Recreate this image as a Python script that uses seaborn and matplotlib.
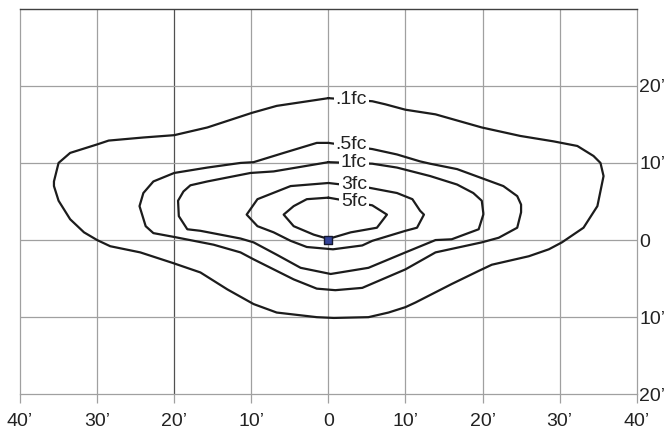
import numpy as np
import pandas as pd
import seaborn as sns
import matplotlib
matplotlib.use("Agg")
import matplotlib.pyplot as plt

# isofootcandle lines, coordinates in feet
x_01 = [0, -6.7, -9.9, -15.7, -20.0, -24.0, -28.5, -30.0, -33.5, -35.0, -35.6, -35.6,
        -35.0, -33.5, -31.7, -30.0, -28.3, -24.4, -20.1, -16.6, -13.1, -9.7, -6.7, -1.5,
        0.7, 5.2, 7.8, 10.0, 11.3, 16.0, 19.5, 21.2, 26.0, 28.6, 30.3, 33.1, 34.9, 35.7,
        35.3, 34.4, 32.3, 29.2, 24.9, 19.9, 13.9, 10.0, 7.4, 5.7]
y_01 = [18.4, 17.4, 16.5, 14.6, 13.6, 13.3, 12.9, 12.4, 11.3, 10.0, 7.6, 7.0,
        5.1, 2.7, 1.0, 0.0, -0.8, -1.6, -3.0, -4.2, -6.4, -8.3, -9.4, -10.0,
        -10.1, -10.0, -9.4, -8.7, -8.1, -5.7, -4.0, -3.2, -2.1, -1.2, -0.3, 1.6, 4.4, 8.3,
        10.0, 10.9, 12.2, 12.8, 13.5, 14.6, 16.3, 16.9, 17.6, 18.0]

x_05 = [0, -1.5, -5.8, -9.7, -11.4, -15.7, -20.0, -22.7, -24.0, -24.5, -23.7, -22.7,
        -20.0, -14.9, -11.4, -9.7, -6.7, -4.5, -1.5, 0.9, 4.4, 10.0, 13.9, 19.9, 22.1,
        24.5, 25.0, 25.0, 24.5, 22.7, 19.7, 16.7, 13.2, 11.9, 8.9, 5.7]
y_05 = [12.6, 12.6, 11.3, 10.1, 10.0, 9.4, 8.7, 7.6, 6.1, 4.4, 1.8, 0.9,
        0.4, -0.6, -1.6, -2.5, -4.0, -5.1, -6.3, -6.5, -6.2, -3.8, -1.6, -0.3, 0.3,
        1.6, 3.6, 4.6, 5.7, 7.0, 8.1, 9.2, 9.9, 10.2, 11.1, 11.8]

x_1 = [0, -7.1, -10.1, -15.7, -17.9, -18.8, -19.5, -19.4, -18.3, -16.6, -11.4, -9.7,
       -6.7, -3.6, 0.3, 5.2, 10.0, 13.9, 16.0, 19.5, 20.1, 20.1, 19.9, 18.8,
       16.7, 13.2, 8.9, 5.7]
y_1 = [10.1, 8.9, 8.7, 7.6, 7.1, 6.3, 5.1, 3.1, 1.4, 1.2, 0.2, -0.3,
       -1.9, -3.6, -4.4, -3.6, -1.6, 0.0, 0.1, 1.4, 3.3, 3.5, 5.1, 6.1,
       7.2, 8.3, 9.4, 9.9]

x_3 = [0, -4.9, -9.2, -10.6, -9.2, -7.1, -4.9, -2.8, 0.6, 4.4, 5.7, 10.0, 11.5,
       12.4, 11.9, 10.9, 8.9, 5.2]
y_3 = [7.4, 7.0, 5.3, 3.3, 1.8, 1.0, -0.1, -0.9, -1.2, -0.7, -0.1, 1.2, 1.6,
       3.3, 3.8, 5.3, 6.1, 6.8]

x_5 = [0, -2.8, -4.5, -5.8, -4.5, -1.9, 0, 2.9, 6.3, 7.6, 5.7]
y_5 = [5.5, 5.3, 4.4, 3.3, 1.8, 0.7, 0.15, 1.0, 1.6, 3.3, 4.5]

levels = [".1fc", ".5fc", "1fc", "3fc", "5fc"]
label_x = [5.0, 5.0, 5.0, 5.0, 5.0]
label_y = [18.2, 12.4, 10.0, 7.2, 5.05]

x_ticks = [-40, -30, -20, -10, 0, 10, 20, 30, 40]
x_ticklabels = ["40\u2019", "30\u2019", "20\u2019", "10\u2019", "0",
                "10\u2019", "20\u2019", "30\u2019", "40\u2019"]
y_ticks = [-20, -10, 0, 10, 20]
y_ticklabels = ["20\u2019", "10\u2019", "0", "10\u2019", "20\u2019"]

sns.set_style("white")
plt.rcParams["font.family"] = ["Liberation Sans", "DejaVu Sans"]

fig = plt.figure(figsize=(6.7, 4.33), dpi=100)
ax = fig.add_axes([0.0299, 0.0894, 0.9204, 0.8905])

grid_c = "#a0a0a0"
for gx in x_ticks[1:-1]:
    ax.axvline(gx, color="#505050" if gx == -20 else grid_c, lw=0.9, zorder=1)
for gy in y_ticks[1:]:
    ax.axhline(gy, color=grid_c, lw=0.9, zorder=1)

curves = [(x_01, y_01), (x_05, y_05), (x_1, y_1), (x_3, y_3), (x_5, y_5)]
for (cx, cy), lev in zip(curves, levels):
    df = pd.DataFrame({"x": cx + cx[:1], "y": cy + cy[:1]})
    sns.lineplot(data=df, x="x", y="y", sort=False, estimator=None,
                 color="#1c1c1c", lw=1.6, ax=ax, zorder=3)

for lx, ly, lev in zip(label_x, label_y, levels):
    ax.text(lx, ly, lev, ha="right", va="center", fontsize=14, color="#222222",
            zorder=5, bbox=dict(boxstyle="square,pad=0.1", fc="white", ec="none"))

sns.scatterplot(x=[0], y=[0], marker="s", s=30, color="#34449a",
                edgecolor="#15182e", linewidth=1, ax=ax, zorder=6)

ax.set_xlim(-40, 40)
ax.set_ylim(-20, 30)
ax.set_xticks(x_ticks)
ax.set_xticklabels(x_ticklabels)
ax.yaxis.tick_right()
ax.set_yticks(y_ticks)
ax.set_yticklabels(y_ticklabels)
ax.tick_params(axis="x", length=6.5, width=0.9, color=grid_c, pad=7,
               labelsize=14, labelcolor="#222222", bottom=True)
ax.tick_params(axis="y", length=0, pad=2, labelsize=14, labelcolor="#222222", right=True)
ax.set_xlabel("")
ax.set_ylabel("")

for side in ["left", "right", "bottom"]:
    ax.spines[side].set_color(grid_c)
    ax.spines[side].set_linewidth(0.9)
ax.spines["top"].set_color("#404040")
ax.spines["top"].set_linewidth(1.0)

fig.savefig("out.png", dpi=100)
